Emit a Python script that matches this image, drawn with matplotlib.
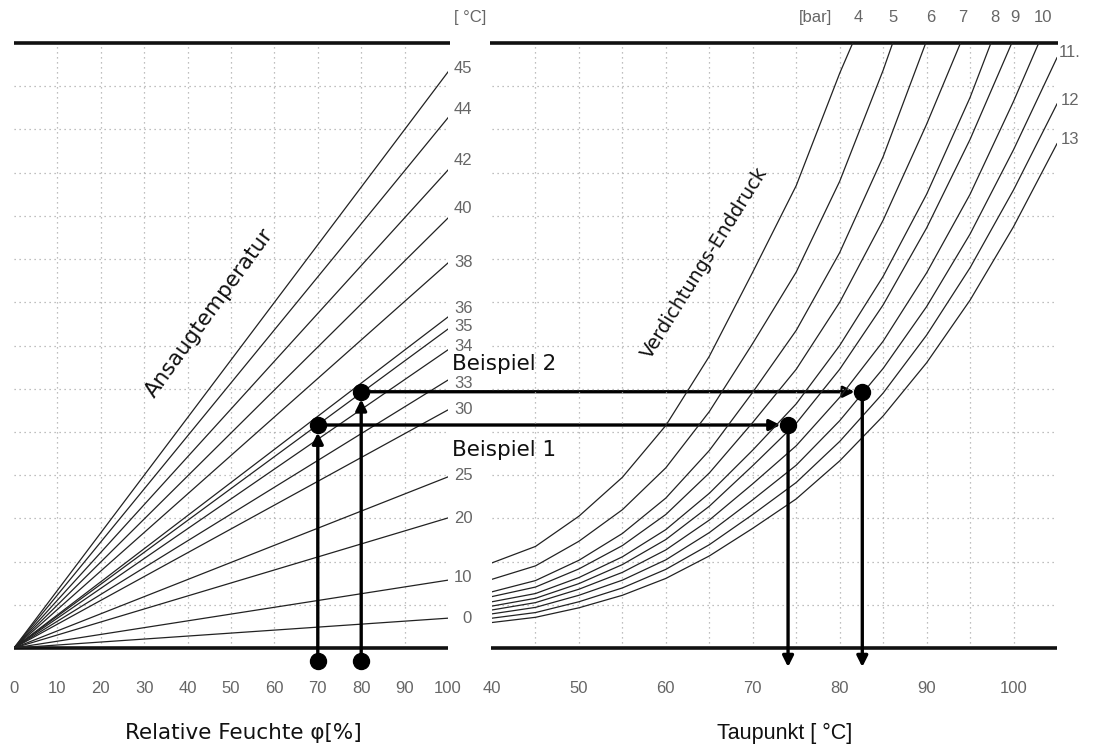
import matplotlib
matplotlib.use("Agg")
import matplotlib.pyplot as plt

# --- data (y in grid cells, 0 = bottom line, 14 = top line) ---
ansaug_temp = [0, 10, 20, 25, 30, 33, 34, 35, 36, 38, 40, 42, 44, 45]
ansaug_end = [0.69, 1.57, 3.01, 3.96, 5.51, 6.20, 6.90, 7.38, 7.66, 8.91, 9.95, 11.06, 12.27, 13.33]
ansaug_label_y = [0.69, 1.62, 2.99, 3.99, 5.51, 6.12, 6.97, 7.45, 7.85, 8.93, 10.16, 11.27, 12.45, 13.42]

phi_ticks = [0, 10, 20, 30, 40, 50, 60, 70, 80, 90, 100]
tau_ticks = [40, 50, 60, 70, 80, 90, 100]

druck = [4, 5, 6, 7, 8, 9, 10, 11, 12, 13]
dew_x = [40, 45, 50, 55, 60, 65, 70, 75, 80, 85, 90, 95, 100, 105]
druck_4 = [1.97, 2.35, 3.05, 3.95, 5.15, 6.75, 8.70, 10.70, 13.30]
druck_5 = [1.59, 1.90, 2.47, 3.20, 4.17, 5.47, 7.05, 8.70, 10.80, 13.37]
druck_6 = [1.30, 1.56, 2.03, 2.65, 3.47, 4.57, 5.92, 7.35, 9.15, 11.37]
druck_7 = [1.19, 1.41, 1.83, 2.37, 3.09, 4.05, 5.22, 6.45, 8.00, 9.90, 12.12]
druck_8 = [1.07, 1.26, 1.63, 2.11, 2.74, 3.58, 4.58, 5.65, 7.00, 8.60, 10.50, 12.74]
druck_9 = [0.97, 1.15, 1.49, 1.93, 2.51, 3.28, 4.22, 5.20, 6.45, 7.94, 9.72, 11.77]
druck_10 = [0.88, 1.05, 1.36, 1.75, 2.27, 2.96, 3.80, 4.68, 5.80, 7.10, 8.68, 10.50, 12.65]
druck_11 = [0.79, 0.94, 1.22, 1.57, 2.04, 2.67, 3.43, 4.23, 5.26, 6.47, 7.90, 9.58, 11.53, 13.66]
druck_12 = [0.69, 0.82, 1.07, 1.39, 1.82, 2.39, 3.09, 3.83, 4.78, 5.90, 7.24, 8.80, 10.60, 12.59]
druck_13 = [0.59, 0.71, 0.93, 1.22, 1.61, 2.13, 2.77, 3.45, 4.33, 5.37, 6.60, 8.05, 9.75, 11.67]
druck_y = [druck_4, druck_5, druck_6, druck_7, druck_8, druck_9, druck_10, druck_11, druck_12, druck_13]
druck_top_x = [81.5, 86.1, 89.9, 93.9, 97.4, 99.8, 102.9, None, None, None]
druck_label_x = [82.1, 86.1, 90.5, 94.1, 97.9, 100.2, 103.4, 106.5, 106.5, 106.5]
druck_label_y = [14.58, 14.58, 14.58, 14.58, 14.58, 14.58, 14.58, 13.77, 12.68, 11.76]
druck_label = ["4", "5", "6", "7", "8", "9", "10", "11.", "12", "13"]

beispiel = ["Beispiel 1", "Beispiel 2"]
beispiel_phi = [70, 80]
beispiel_y = [5.16, 5.93]
beispiel_tau = [74.06, 82.6]

W, H = 1101, 745
fig = plt.figure(figsize=(W / 100, H / 100), dpi=100)


def px_axes(x0, x1, ytop, ybot):
    return fig.add_axes([x0 / W, 1 - ybot / H, (x1 - x0) / W, (ybot - ytop) / H])


axl = px_axes(14, 448, 43, 648)
axl.set_xlim(0, 100)
axr = px_axes(492, 1057, 43, 648)
axr.set_xlim(40, 105)
for ax in (axl, axr):
    ax.set_ylim(0, 14)
    ax.axis("off")
    ax.patch.set_alpha(0)

grid = dict(ls=(0, (1, 3)), color="#aaaaaa", lw=0.9, zorder=0)
for x in range(10, 100, 10):
    axl.plot([x, x], [0, 14], **grid)
for x in range(45, 105, 5):
    axr.plot([x, x], [0, 14], **grid)
for y in range(1, 14):
    axl.plot([0, 100], [y, y], **grid)
    axr.plot([40, 105], [y, y], **grid)

thick = dict(color="#111111", lw=2.6, clip_on=False, solid_capstyle="butt")
axl.plot([0, 100.4], [14, 14], **thick)
axl.plot([0, 100], [0, 0], **thick)
axr.plot([39.8, 105.1], [14, 14], **thick)
axr.plot([39.9, 105], [0, 0], **thick)

numfont = dict(family=["Liberation Sans Narrow", "Liberation Sans"], color="#666666", fontsize=12)
textfont = dict(family="DejaVu Sans", fontsize=15.5, color="#111111")

# left panel: intake temperature lines
for t, ye, ly in zip(ansaug_temp, ansaug_end, ansaug_label_y):
    axl.plot([0, 100], [0, ye], color="#222222", lw=0.9)
    axl.text(104.4 if t == 0 else 103.5, ly, str(t), ha="center", va="center", **numfont)
axl.text(105.1, 14.6, "[ °C]", ha="center", va="center", **numfont)

# right panel: final pressure curves
for ys, tx in zip(druck_y, druck_top_x):
    xs = dew_x[:len(ys)]
    if tx is not None:
        xs = xs + [tx]
        ys = ys + [14]
    axr.plot(xs, ys, color="#222222", lw=0.9)
for lx, ly, lab in zip(druck_label_x, druck_label_y, druck_label):
    axr.text(lx, ly, lab, ha="center", va="center", clip_on=False, **numfont)
axr.text(77.2, 14.58, "[bar]", ha="center", va="center", **numfont)

for v in phi_ticks:
    axl.text(v, -0.93, str(v), ha="center", va="center", **numfont)
for v in tau_ticks:
    axr.text(v, -0.93, str(v), ha="center", va="center", **numfont)

axl.text(52.8, -1.97, "Relative Feuchte φ[%]", ha="center", va="center", **textfont)
axr.text(73.7, -1.97, "Taupunkt [ °C]", ha="center", va="center",
         family="Liberation Sans", fontsize=15.5, color="#111111")
axl.text(45.0, 7.75, "Ansaugtemperatur", rotation=54, ha="center", va="center", **textfont)
axr.text(64.5, 8.91, "Verdichtungs-Enddruck", rotation=58, ha="center", va="center",
         family="DejaVu Sans", fontsize=13.8, color="#111111")

# examples
arrow = dict(arrowstyle="-|>", lw=2.4, color="black", mutation_scale=16)
for name, phi, y, tau, ty in zip(beispiel, beispiel_phi, beispiel_y, beispiel_tau, [4.58, 6.58]):
    axl.annotate("", xy=(phi, y), xytext=(phi, -0.3), annotation_clip=False,
                 arrowprops=dict(shrinkA=0, shrinkB=5.5, **arrow))
    axl.annotate("", xy=(tau, y), xycoords=axr.transData, xytext=(phi, y),
                 textcoords=axl.transData, annotation_clip=False,
                 arrowprops=dict(shrinkA=0, shrinkB=5.5, **arrow))
    axr.annotate("", xy=(tau, -0.44), xytext=(tau, y), annotation_clip=False,
                 arrowprops=dict(shrinkA=0, shrinkB=0, **arrow))
    axl.plot([phi, phi], [y, -0.3], "o", color="black", ms=11.5, clip_on=False, zorder=5)
    axr.plot([tau], [y], "o", color="black", ms=11.5, clip_on=False, zorder=5)
    axl.text(100.9, ty, name, ha="left", va="center", clip_on=False, **textfont)

fig.savefig("out.png", dpi=100)
